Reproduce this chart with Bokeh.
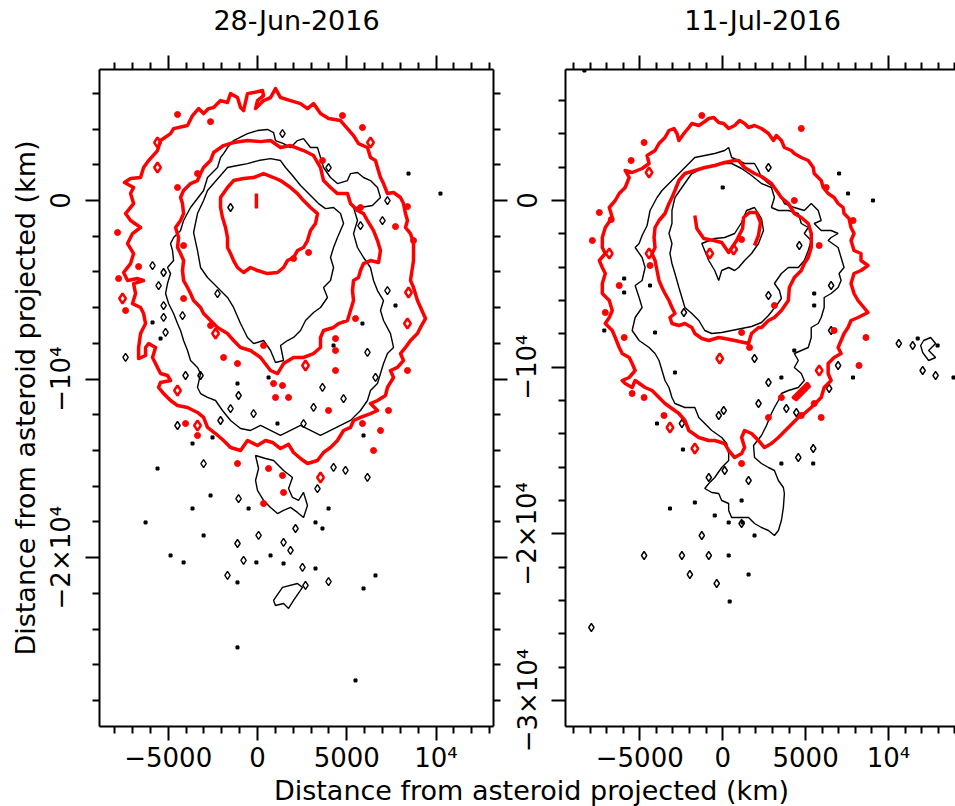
from bokeh.plotting import figure
from bokeh.models import Range1d, LinearAxis, FixedTicker, Label
from bokeh.layouts import column, row
from bokeh.embed import file_html
from bokeh.resources import INLINE

# ---------------- texts / ticks ----------------
TITLES = ["28-Jun-2016", "11-Jul-2016"]
AXIS_TITLE = "Distance from asteroid projected (km)"
X_TICKS = [-5000, 0, 5000, 10000]
X_TICK_LABELS = ["\u22125000", "0", "5000", "10\u2074"]
X_MINOR = [-9000, -8000, -7000, -6000, -4000, -3000, -2000, -1000, 1000, 2000, 3000, 4000,
           6000, 7000, 8000, 9000, 11000, 12000, 13000, 14000]
Y_TICKS = [0, -10000, -20000, -30000]
Y_TICK_LABELS = ["0", "\u221210\u2074", "\u22122\u00d710\u2074", "\u22123\u00d710\u2074"]
Y_MINOR = [6000, 4000, 2000, -2000, -4000, -6000, -8000, -12000, -14000, -16000, -18000,
           -22000, -24000, -26000, -28000]

# ---------------- 28-Jun-2016 (km) ----------------
jun_red_outer = [(-7450,1010),(-7110,1230),(-6550,1290),(-6380,1850),(-6100,2240),(-5600,2800),(-5430,3360),(-4870,3750),(-4700,4030),(-3920,4200),(-3640,4760),(-3300,5150),(-3020,4870),(-2740,5150),(-2460,5210),(-2070,5600),(-1680,5490),(-1510,5990),(-1120,5770),(-950,5210),(-780,5040),(-560,5990),(-220,6050),(280,6160),(340,5880),(0,5600),(-110,5150),(340,5600),(730,5770),(1010,6270),(1290,5770),(1850,5600),(2410,5430),(2800,5150),(3140,5430),(3530,4870),(3980,4590),(4650,4480),(5040,4030),(5380,3640),(5660,3190),(6160,2970),(6330,2410),(6610,2240),(6720,1850),(6890,1290),(7060,950),(7280,390),(7620,450),(8010,170),(8180,-170),(8290,-730),(8400,-1120),(8290,-1510),(8570,-1850),(8740,-2410),(8740,-3360),(8570,-4480),(8740,-4870),(8960,-5600),(9410,-6610),(9130,-7110),(8960,-7450),(8570,-7840),(8290,-8230),(8010,-8570),(8180,-8960),(7840,-9350),(7450,-9520),(7620,-9910),(7280,-10470),(7170,-10920),(6720,-11200),(6330,-11370),(6720,-11760),(6330,-11930),(5770,-12150),(5380,-12320),(5210,-12710),(4820,-12880),(4480,-13440),(4090,-13830),(3700,-14110),(3360,-14560),(2800,-14730),(2410,-14450),(2020,-14110),(1740,-13660),(1290,-13890),(840,-13550),(450,-13440),(0,-13720),(-560,-13440),(-950,-14000),(-1510,-13830),(-1900,-13440),(-2350,-13050),(-2800,-12710),(-3020,-12150),(-3360,-11870),(-3920,-11590),(-4480,-11480),(-4870,-11200),(-5260,-10810),(-5540,-10470),(-5430,-10190),(-4870,-10080),(-5040,-9800),(-5430,-9690),(-5600,-9350),(-5880,-8790),(-5710,-8230),(-6100,-8010),(-6270,-8230),(-6270,-8680),(-6660,-8850),(-6660,-8230),(-6550,-7450),(-6270,-6890),(-6380,-6330),(-6550,-5990),(-7000,-5770),(-6830,-5210),(-6940,-4650),(-6380,-4480),(-6720,-4370),(-7280,-4480),(-7500,-4030),(-7110,-3530),(-6940,-2970),(-7280,-2410),(-7000,-1850),(-6550,-1510),(-7110,-1120),(-7390,-730),(-6940,-170),(-7110,390),(-6940,730)]
jun_red_mid = [(170,3300),(730,3360),(1290,2970),(1850,3080),(2580,2800),(3140,2520),(3530,1850),(3700,1120),(4090,730),(4480,390),(5040,390),(5210,-170),(5600,-560),(5940,-730),(6160,-1120),(6500,-1680),(6720,-2240),(6890,-2800),(6780,-3470),(6330,-3360),(5940,-3530),(5770,-3920),(5660,-4310),(5380,-4480),(5320,-5040),(5380,-5600),(5210,-6160),(5040,-6720),(4540,-6890),(4260,-7110),(3700,-7280),(3530,-7670),(3530,-8230),(3140,-8570),(2580,-8790),(2020,-8790),(1460,-9130),(1120,-9690),(730,-9520),(170,-8790),(-390,-8400),(-950,-8230),(-1340,-7840),(-1680,-7450),(-2240,-7110),(-2630,-6720),(-3020,-6330),(-3190,-5990),(-3580,-5600),(-3750,-5210),(-3920,-4870),(-4140,-4480),(-4200,-3920),(-4140,-3360),(-4310,-2970),(-4480,-2630),(-4420,-2070),(-4590,-1510),(-4310,-1120),(-4140,-730),(-4200,-170),(-4310,170),(-4140,560),(-3750,950),(-3360,1120),(-3190,1510),(-3020,1850),(-2630,2240),(-2460,2690),(-1900,3080),(-1340,3250),(-560,3360)]
jun_red_inner = [(-2070,170),(-1680,730),(-1340,1120),(-780,1230),(-220,1290),(340,1510),(900,1290),(1290,1120),(1850,730),(2240,390),(2580,0),(2970,-390),(3360,-730),(3250,-1290),(2970,-1680),(2800,-2240),(2580,-2630),(2240,-2800),(2020,-3190),(1680,-3360),(1460,-3750),(1120,-4030),(560,-4090),(0,-3920),(-390,-3750),(-780,-4030),(-1120,-3750),(-1340,-3360),(-1510,-2970),(-1680,-2630),(-1680,-2070),(-1790,-1510),(-1960,-950),(-2070,-390)]
jun_red_dash = [(-60,390),(-60,-450)]
jun_black_inner = [(730,2350),(1290,2240),(1570,1850),(1960,1400),(2410,840),(2860,390),(3420,-170),(3810,-450),(4260,-390),(4650,-730),(4820,-1290),(4480,-2070),(4260,-2630),(4090,-3190),(4260,-3750),(4090,-4480),(3700,-4870),(3920,-5430),(3530,-5990),(3140,-6270),(2690,-6720),(2410,-7280),(2020,-7670),(1680,-7840),(1290,-8120),(1460,-8960),(1010,-9070),(730,-8400),(340,-7840),(-220,-8010),(-560,-7670),(-950,-6890),(-1340,-5990),(-1680,-5430),(-2240,-4870),(-2800,-4310),(-3190,-3750),(-3360,-2800),(-3580,-1790),(-3360,-730),(-3020,0),(-2800,560),(-2460,950),(-2070,1400),(-1680,1850),(-1120,1960),(-560,2070),(60,2240)]
jun_black_outer = [(0,3920),(560,3980),(900,3810),(1010,3360),(1460,3190),(1850,2970),(2240,3360),(2580,3470),(2970,2970),(3360,2970),(3530,2410),(3700,1850),(4090,1290),(4480,950),(5040,1120),(5210,1510),(5600,1570),(5940,1290),(6330,1120),(6720,730),(6890,170),(6440,-280),(5770,-390),(5380,-390),(5600,-1120),(5380,-1850),(5600,-2630),(5940,-3190),(6330,-3750),(6500,-4480),(6720,-5040),(7060,-5600),(6890,-6160),(7060,-6720),(7450,-7450),(7620,-8230),(7280,-8570),(7060,-9130),(6890,-9690),(6720,-10250),(6330,-10640),(6160,-11200),(5770,-11760),(5210,-12320),(4650,-12600),(4090,-12880),(3530,-13160),(2970,-12880),(2410,-12600),(1850,-12880),(1290,-13160),(730,-12880),(170,-12600),(-390,-12880),(-950,-12770),(-1510,-12320),(-1960,-11760),(-2350,-11200),(-2800,-11030),(-3190,-10810),(-3360,-10470),(-3190,-9690),(-3360,-9350),(-3750,-8960),(-3920,-8400),(-4140,-7840),(-4310,-7280),(-4480,-6890),(-4700,-6330),(-4980,-5770),(-5150,-5210),(-5040,-4650),(-4870,-4090),(-5040,-3750),(-4700,-3360),(-4760,-2800),(-4870,-2410),(-4700,-2070),(-4310,-1680),(-4140,-1120),(-3750,-390),(-3020,560),(-2800,1290),(-2240,1850),(-2070,2410),(-1900,2630),(-1680,2970),(-1340,3360),(-560,3750)]
jun_black_low = [(-110,-14280),(450,-14450),(900,-14560),(1460,-15120),(1960,-15510),(1740,-16130),(1960,-16630),(2300,-16800),(2580,-16350),(2800,-17080),(2580,-17750),(2240,-17470),(1850,-17190),(1460,-17360),(1120,-17530),(730,-17190),(340,-16800),(0,-16240),(-110,-15680),(60,-15010)]
jun_black_arrow = [(900,-22400),(1400,-21670),(2240,-21450),(2520,-21670),(2020,-22400),(1740,-22850),(1460,-22570),(1010,-22680)]
jun_black_islands = [(1400,3750),(3980,1850),(7280,0),(7000,-1120),(5770,-1400),(-1510,-390),(-5880,-3640),(-5260,-4030),(-5540,-4760),(-5260,-5880),(-5260,-6550),(-5150,-7390),(-4200,-6440),(-7390,-8790),(-3190,-9800),(-4030,-9800),(-2240,-5210),(-1060,-10920),(-1510,-11650),(-220,-11930),(7280,-5040),(6160,-8510),(4820,-11090),(3640,-10470),(3140,-11590),(6610,-9910),(2580,-12490),(4260,-14950),(3360,-16130),(6160,-15510),(-1060,-16690),(-3020,-14730),(-4480,-12600),(60,-18760),(1850,-19600),(2130,-18370),(-780,-20160),(2520,-20550),(-1680,-21000),(2690,-21560),(3980,-21340),(4930,-15120),(-2070,-12320),(-1120,-19210),(1460,-19150)]
jun_black_dots = [(-5880,-6830),(-5430,-7730),(-1120,-10250),(620,-9910),(1120,-12490),(5880,-6890),(7730,-5880),(4260,-8120),(-3640,-13610),(-5600,-15010),(-2630,-16520),(-3640,-17250),(-500,-17250),(3980,-17250),(-2520,-13270),(5940,-13160),(8460,1510),(10250,390),(-6270,-18030),(-3020,-18760),(3250,-18030),(3640,-18370),(730,-19880),(-4870,-19880),(-4140,-20270),(-60,-20270),(1460,-20330),(3250,-20610),(-1120,-21390),(6610,-21000),(5940,-21730),(-1120,-25030),(5490,-26880)]
jun_red_dots = [(-4480,4820),(-2630,4420),(-4480,730),(4760,4760),(5880,4090),(3640,2240),(5770,-390),(7730,-1460),(8400,-340),(-7840,-1790),(-4140,-2520),(-3360,1510),(2020,-3250),(2860,-2910),(-7780,-4370),(-7390,-6160),(-6660,-3700),(-4140,-5490),(-1900,-8790),(-1120,-9130),(340,-8120),(900,-10250),(1400,-10360),(1740,-11030),(1010,-11030),(3980,-11760),(4370,-7730),(4370,-8400),(4370,-9520),(5490,-6610),(8400,-9520),(7340,-11760),(6890,-12880),(6500,-14000),(5880,-12490),(-3360,-13160),(-4030,-12490),(-1120,-14730),(620,-15010),(1400,-15400),(1460,-16350),(340,-16970),(-2630,-7000),(8740,-2240)]
jun_red_loops = [(-5600,3250),(-5600,1850),(6330,3250),(-7560,-5490),(2690,-9240),(-4480,-10640),(-3360,-12600),(3530,-15510),(8400,-6890),(8460,-5150),(-2350,-7450)]

# ---------------- 11-Jul-2016 (km) ----------------
jul_red_outer = [(-1440,4500),(-1080,4740),(-840,4920),(-540,4980),(-240,4680),(60,4620),(360,4320),(720,4500),(1020,4800),(1320,4620),(1560,4380),(1920,4500),(2340,4320),(2760,4020),(3060,3600),(3240,3900),(3540,3600),(3720,3180),(4140,3000),(4320,2820),(4740,2580),(5160,2400),(5460,1980),(5520,1620),(5940,1200),(6060,780),(6360,420),(6720,180),(6960,-180),(7260,-420),(7320,-780),(7620,-1080),(7740,-1620),(7920,-1980),(7740,-2400),(7920,-3000),(8340,-3180),(8340,-3600),(8760,-3900),(8340,-4200),(7920,-4380),(7740,-4980),(7920,-5580),(8160,-6000),(8760,-6720),(8160,-7020),(7740,-7200),(7560,-7620),(7320,-7980),(7140,-8400),(6960,-8820),(7140,-9180),(6720,-9420),(6360,-9780),(6360,-10380),(6540,-10800),(6120,-11220),(5940,-11820),(5340,-12420),(4920,-12780),(4560,-13020),(3960,-13620),(3360,-14220),(2940,-14580),(2520,-14820),(2160,-14400),(1740,-13980),(1320,-13800),(1140,-14220),(1320,-14820),(1140,-15180),(720,-15420),(360,-15000),(120,-14580),(-480,-14400),(-840,-14400),(-1440,-14220),(-2040,-13800),(-2280,-13200),(-2640,-12780),(-3060,-12480),(-3480,-12180),(-3840,-11820),(-4260,-11400),(-4680,-11220),(-5280,-10800),(-5460,-11220),(-5880,-10980),(-6060,-10800),(-5640,-10620),(-5280,-10200),(-5460,-9780),(-5640,-9420),(-6060,-9180),(-6240,-8820),(-6480,-8220),(-6660,-7800),(-7080,-7380),(-6840,-7020),(-6660,-6600),(-6840,-6000),(-7260,-5580),(-7260,-4980),(-7080,-4380),(-7260,-4020),(-7440,-3600),(-7080,-3180),(-7260,-2820),(-7260,-2220),(-7080,-1620),(-6660,-1020),(-6840,-420),(-6480,0),(-6240,420),(-5880,780),(-5640,1380),(-5880,1800),(-5460,1680),(-4860,1920),(-4440,2220),(-4560,2700),(-4080,3000),(-3840,3420),(-3480,3780),(-3240,4200),(-2940,4320),(-2760,4020),(-2640,3600),(-2340,4020),(-2040,4380),(-1860,4620)]
jul_red_mid = [(720,2400),(960,2400),(1320,1980),(1620,1800),(1920,1620),(2340,1440),(2940,1020),(3540,180),(3960,-180),(4320,-780),(4740,-1020),(5160,-1380),(5340,-1980),(5340,-2820),(5160,-3420),(4920,-3780),(4740,-4200),(4320,-4620),(4020,-5220),(3960,-6000),(3540,-6600),(3120,-7020),(2760,-7200),(2340,-7620),(2160,-7620),(1740,-7980),(1560,-8580),(720,-8400),(120,-8280),(-240,-8220),(-840,-8400),(-1260,-8280),(-1680,-7980),(-1860,-7620),(-2280,-7380),(-2640,-7500),(-3060,-7380),(-3180,-7020),(-2880,-6780),(-3060,-6420),(-3240,-6000),(-3480,-5580),(-3660,-5220),(-3840,-4800),(-3960,-4200),(-4080,-3600),(-4260,-3180),(-4080,-2820),(-4140,-2220),(-4080,-1620),(-3840,-1200),(-3480,-780),(-3240,-180),(-3060,180),(-2880,600),(-2640,1200),(-2280,1620),(-1680,1800),(-1080,1980),(-480,2100),(120,2280)]
jul_red_hook = [(-1680,-900),(-1560,-1680),(-1140,-2280),(-540,-2400),(-60,-2520),(360,-3120),(840,-2400),(1200,-1680),(1260,-1020),(1620,-720),(2040,-720),(2280,-1320),(2160,-2100),(1920,-2700)]
jul_red_streak = [(4260,-11820),(5100,-10980),(5220,-11160),(4440,-11940)]
jul_black_inner = [(-1260,-2580),(-840,-3600),(-480,-4200),(-240,-4800),(-60,-4200),(360,-4020),(720,-4200),(960,-4020),(1320,-3600),(1740,-3180),(2160,-2580),(2460,-1800),(2340,-1080),(1920,-420),(1440,-600),(1140,-1320),(720,-1980),(120,-2220),(-480,-2280)]
jul_black_mid = [(-1860,1620),(-2040,1380),(-2460,780),(-2880,180),(-3060,-600),(-3060,-1380),(-3240,-1980),(-3060,-2580),(-3180,-3180),(-3060,-3780),(-2880,-4380),(-2640,-5220),(-2460,-5820),(-2280,-6420),(-1860,-6780),(-1440,-7200),(-1080,-7800),(-660,-7980),(-60,-7920),(540,-7800),(1140,-7680),(1740,-7560),(2340,-7320),(2760,-6900),(3240,-6300),(3540,-5880),(3420,-5400),(3120,-4980),(3540,-4380),(3960,-4020),(4560,-4020),(4920,-3600),(5160,-3000),(5340,-2400),(4920,-1980),(5160,-1620),(4740,-1380),(4560,-780),(3960,-600),(3360,-600),(2940,-420),(3120,180),(2940,780),(2340,1020),(1740,1500),(1140,1920),(540,2220),(-60,2220),(-660,2100),(-1260,1920)]
jul_black_outer = [(-1860,2400),(-1680,2580),(-1080,2700),(-480,2820),(120,3000),(360,3180),(540,2580),(960,2400),(1320,2220),(1920,2220),(2160,1800),(2340,1380),(2760,1020),(3120,780),(3540,180),(3720,-180),(4320,-420),(4920,-600),(5340,-180),(5760,-600),(5940,-1200),(5520,-1380),(5940,-1800),(6540,-1800),(6960,-1980),(6540,-2220),(6360,-2400),(6960,-2820),(7140,-3420),(7320,-4020),(7020,-4380),(7140,-4800),(6960,-5220),(6540,-5580),(6120,-5820),(6120,-6420),(5940,-7020),(5760,-7380),(5340,-7620),(5340,-8220),(5160,-8820),(4740,-9000),(4320,-9180),(4560,-9600),(4320,-10020),(4740,-10380),(4920,-10800),(4560,-11220),(3960,-11400),(3540,-11580),(3360,-12000),(3120,-12420),(2940,-12780),(2640,-13500),(2340,-14100),(1860,-14700),(1920,-15420),(2340,-15780),(2760,-16020),(3120,-16200),(3360,-16800),(3660,-17220),(3720,-17580),(3660,-18420),(3540,-19200),(3360,-19800),(3120,-20100),(2760,-19800),(2340,-19620),(1920,-19380),(1560,-19020),(1140,-19020),(540,-19020),(360,-18600),(360,-18180),(-60,-18000),(-240,-17580),(-660,-17520),(-1080,-17280),(-840,-16980),(-480,-16620),(-60,-16020),(360,-15600),(360,-15180),(240,-14580),(-60,-14220),(-660,-13800),(-1080,-13380),(-1440,-13020),(-1680,-12420),(-2280,-12420),(-2880,-12180),(-3060,-11820),(-3240,-11220),(-3480,-10800),(-3660,-10200),(-3840,-9600),(-4080,-9180),(-4440,-8820),(-5040,-8400),(-5460,-7800),(-5280,-7020),(-4860,-6420),(-5040,-5820),(-5280,-5100),(-4860,-4800),(-4680,-4020),(-4860,-3420),(-5280,-2820),(-5040,-2580),(-4860,-2100),(-4560,-1500),(-4380,-600),(-3960,180),(-3660,600),(-3060,1200),(-2460,1800)]
jul_black_far = [(12120,-8400),(12540,-8220),(12840,-8580),(12420,-9000),(12840,-9420),(12420,-9600),(12060,-9120),(11940,-8700)]
jul_black_islands = [(2760,1980),(4620,-2700),(6540,-5100),(2760,-5700),(1920,-9480),(-2340,-6720),(-2460,-13380),(-240,-12900),(60,-12600),(120,-16200),(-840,-16620),(6960,-9900),(6420,-11280),(4440,-12720),(3840,-12480),(2760,-10920),(2160,-12180),(1560,-16800),(4560,-15420),(5460,-14880),(6540,-7800),(1140,-19380),(-1260,-20100),(-2460,-21300),(-4740,-21300),(-840,-21300),(-1980,-22440),(-360,-22980),(-7920,-25620),(10620,-8580),(11460,-8700),(12060,-10200),(12840,-10500)]
jul_black_dots = [(-1680,-18120),(-480,-18900),(360,-19320),(1140,-18000),(360,-21300),(420,-24060),(1560,-22440),(1920,-20100),(-3180,-18480),(5460,-15780),(3540,-15780),(-2400,-14940),(-3960,-13380),(13920,-10620),(11760,-8280),(12960,-8700),(7020,1620),(7560,420),(9060,0),(0,780),(-8340,7800),(-5940,-4680),(-5940,-5520),(-7140,-7800),(-4080,-7920),(-4380,-5100),(-2880,-10320),(3540,-10620),(5520,-5580),(5520,-6300),(4320,-9000),(7860,-10620),(1200,-19320)]
jul_red_dots = [(-1260,5100),(-4740,3480),(-5520,2400),(-7440,-720),(-7860,-2400),(-6720,-1140),(-6240,-5100),(-7080,-6720),(-5940,-8220),(-4380,-3900),(-5460,-11580),(-4740,-11820),(-3540,-12900),(1140,-15780),(1140,-7920),(1620,-8820),(4740,4320),(6240,780),(4320,0),(7860,-1200),(5820,-2700),(3120,-6300),(6720,-7800),(8640,-8220),(8220,-9900),(5520,-12180),(4740,-12900),(2760,-13020),(5940,-13020),(3540,-11820),(1140,-2340)]
jul_red_loops = [(-4440,1680),(-6840,-3180),(-4440,-3180),(-3180,-13620),(-1680,-14880),(-180,-9480),(5820,-10200),(-780,-3180),(660,-2940)]

FONT = "DejaVu Sans"
RED = "#ff0000"


def xs(pts):
    return [p[0] for p in pts]


def ys(pts):
    return [p[1] for p in pts]


def style_axis(ax, ticks, minor, labels, show_labels, vertical=False):
    ax.ticker = FixedTicker(ticks=ticks, minor_ticks=minor)
    ax.axis_line_width = 2
    ax.axis_line_color = "black"
    ax.major_tick_out = 14
    ax.major_tick_in = 0
    ax.minor_tick_out = 7
    ax.minor_tick_in = 0
    ax.major_tick_line_width = 2
    ax.minor_tick_line_width = 2
    ax.major_tick_line_color = "black"
    ax.minor_tick_line_color = "black"
    ax.major_label_text_font = FONT
    if show_labels:
        ax.major_label_text_color = "black"
        ax.major_label_text_font_size = "26px"
        ax.major_label_overrides = dict(zip(ticks, labels))
        if vertical:
            ax.major_label_orientation = "vertical"
            ax.major_label_standoff = 9
        else:
            ax.major_label_standoff = 2
    else:
        # tick marks only: labels are not drawn
        ax.major_label_text_color = None
        ax.major_label_text_font_size = "1px"
        ax.major_label_standoff = 0


def text_strip(width, height, text, x, y):
    """A bare strip of canvas holding one line of text (titles / shared axis title)."""
    s = figure(width=width, height=height, x_range=Range1d(0, width), y_range=Range1d(0, height),
               output_backend="svg", toolbar_location=None, min_border=0, title=None,
               x_axis_type=None, y_axis_type=None)
    s.outline_line_color = None
    s.add_layout(Label(x=x, y=y, text=text, text_align="center",
                       text_baseline="alphabetic", text_font=FONT,
                       text_font_size="27px", text_color="black"))
    return s


def make_panel(x_rng, y_rng, width, border_left, border_right, right_axis, y_title):
    p = figure(width=width, height=735, x_range=Range1d(*x_rng), y_range=Range1d(*y_rng),
               output_backend="svg", toolbar_location=None, title=None,
               min_border_left=border_left, min_border_right=border_right,
               min_border_top=29, min_border_bottom=49)
    p.outline_line_color = None
    p.xgrid.visible = False
    p.ygrid.visible = False

    style_axis(p.below[0], X_TICKS, X_MINOR, X_TICK_LABELS, True)
    style_axis(p.left[0], Y_TICKS, Y_MINOR, Y_TICK_LABELS, True, vertical=True)
    top = LinearAxis()
    p.add_layout(top, "above")
    style_axis(top, X_TICKS, X_MINOR, X_TICK_LABELS, False)
    if right_axis:
        rax = LinearAxis()
        p.add_layout(rax, "right")
        style_axis(rax, Y_TICKS, Y_MINOR, Y_TICK_LABELS, False)
    if y_title:
        ax = p.left[0]
        ax.axis_label = AXIS_TITLE
        ax.axis_label_text_font = FONT
        ax.axis_label_text_font_size = "27px"
        ax.axis_label_text_font_style = "normal"
        ax.axis_label_text_color = "black"
        ax.axis_label_standoff = 3
    return p


def draw(p, black_polys, red_polys, red_open, islands, dots, rdots, rloops):
    p.patches([xs(c) for c in black_polys], [ys(c) for c in black_polys],
              fill_color=None, line_color="black", line_width=1.4)
    p.scatter(xs(islands), ys(islands), marker="diamond", size=8,
              fill_color=None, line_color="black", line_width=1.4)
    p.scatter(xs(dots), ys(dots), marker="square", size=3,
              fill_color="black", line_color="black")
    p.patches([xs(c) for c in red_polys], [ys(c) for c in red_polys],
              fill_color=None, line_color=RED, line_width=3.5, line_join="round")
    for seg in red_open:
        p.line(xs(seg), ys(seg), line_color=RED, line_width=3.5, line_join="round")
    p.scatter(xs(rdots), ys(rdots), marker="circle", size=6,
              fill_color=RED, line_color=RED)
    p.scatter(xs(rloops), ys(rloops), marker="diamond", size=10,
              fill_color=None, line_color=RED, line_width=2.5)


p1 = make_panel((-8850, 13220), (-29460, 7340), 509, 99, 16, True, True)
draw(p1,
     [jun_black_inner, jun_black_outer, jun_black_low, jun_black_arrow],
     [jun_red_outer, jun_red_mid, jun_red_inner],
     [jun_red_dash],
     jun_black_islands, jun_black_dots, jun_red_dots, jun_red_loops)

p2 = make_panel((-9480, 14040), (-31560, 7860), 446, 54, 0, False, False)
draw(p2,
     [jul_black_inner, jul_black_mid, jul_black_outer, jul_black_far],
     [jul_red_outer, jul_red_mid, jul_red_streak],
     [jul_red_hook],
     jul_black_islands, jul_black_dots, jul_red_dots, jul_red_loops)

t1 = text_strip(509, 40, TITLES[0], 296, 20)
t2 = text_strip(446, 40, TITLES[1], 253, 20)
p3 = text_strip(955, 31, AXIS_TITLE, 531, 16)

layout = column(row(t1, t2), row(p1, p2), p3)
open("out.html", "w").write(file_html(layout, INLINE))
